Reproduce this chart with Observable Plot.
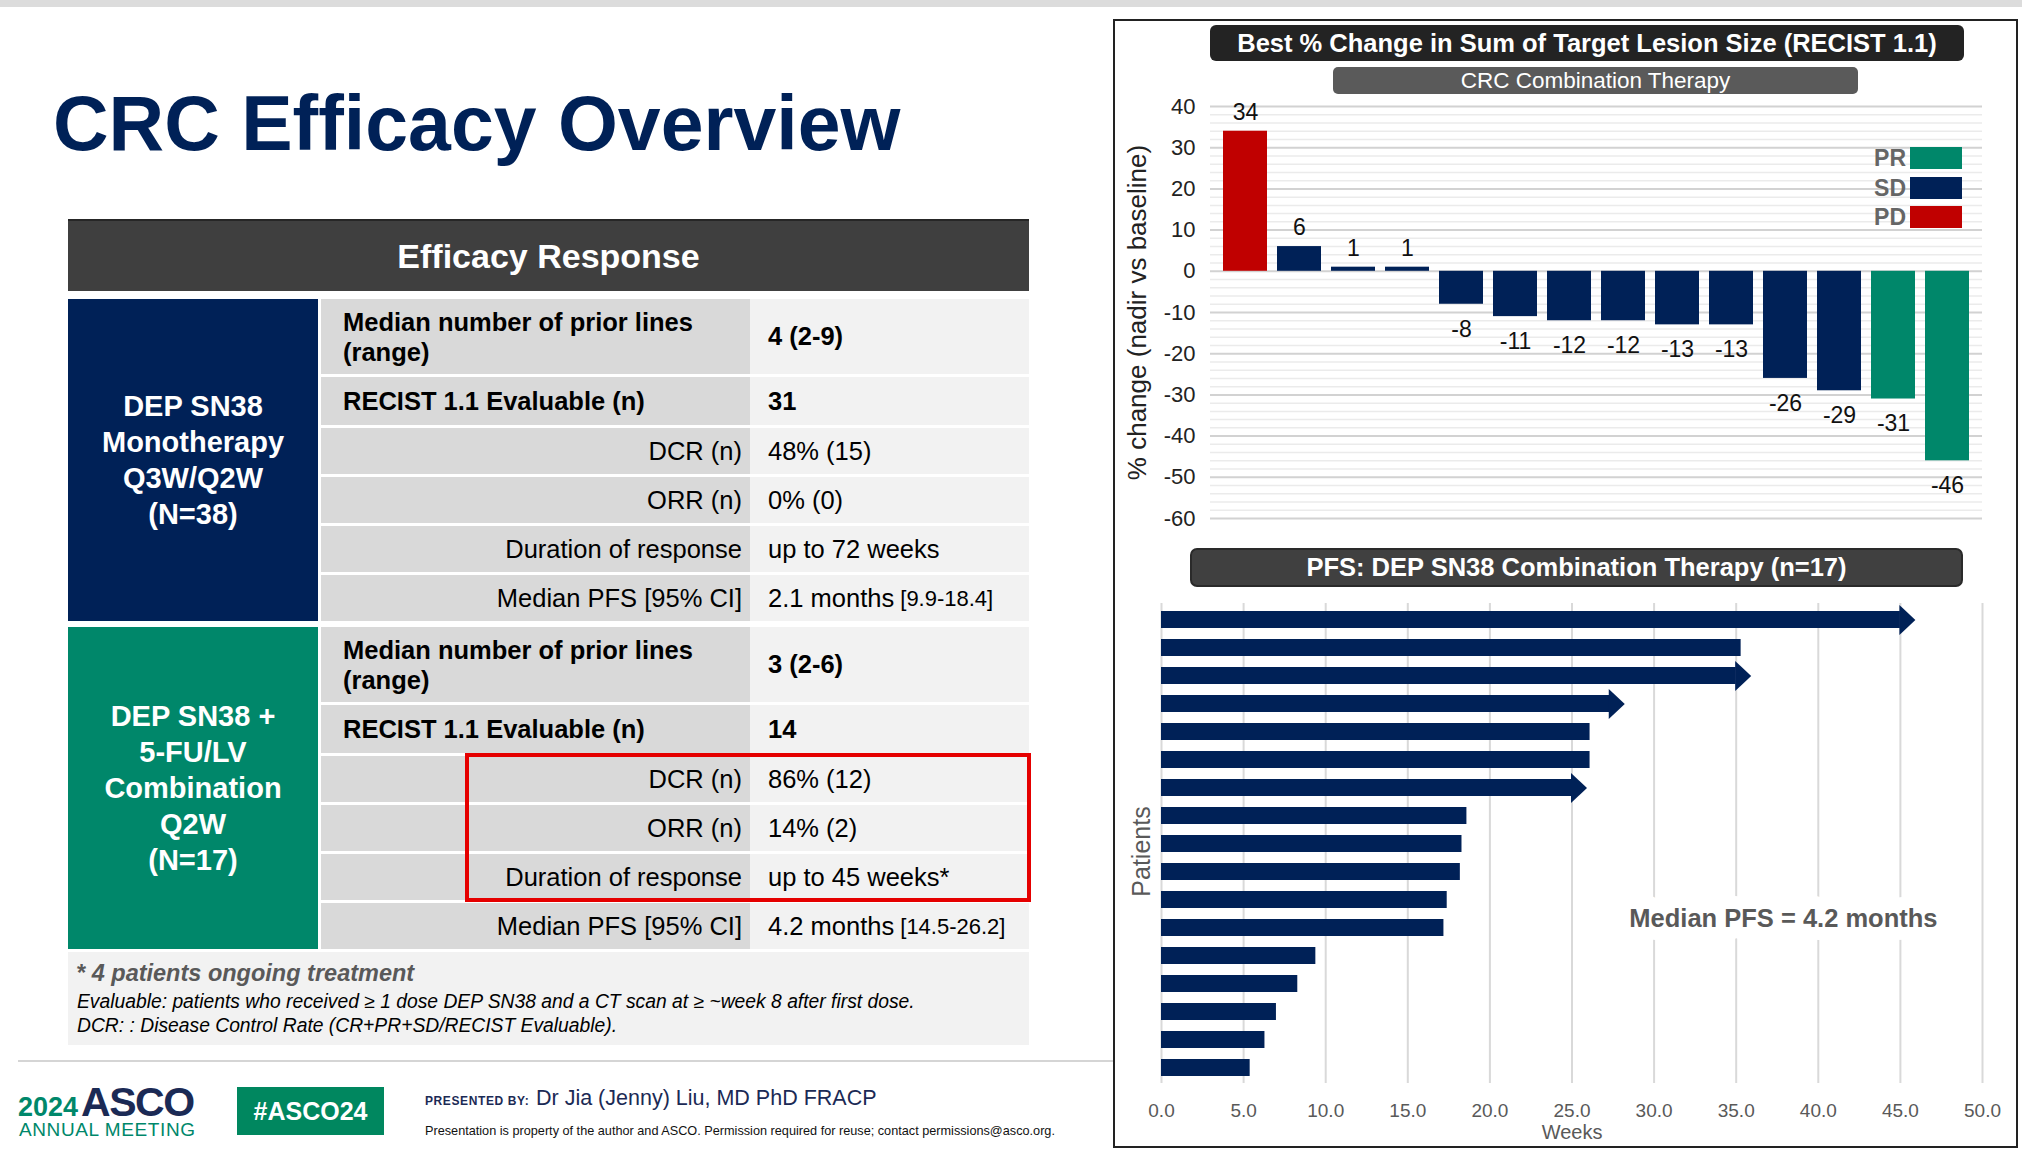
<!DOCTYPE html>
<html><head><meta charset="utf-8">
<script src="https://cdn.jsdelivr.net/npm/d3@7"></script>
<script src="https://cdn.jsdelivr.net/npm/@observablehq/plot@0.6"></script>
<style>
body{margin:0;background:#fff;}
#slide{position:relative;width:2022px;height:1162px;overflow:hidden;font-family:"Liberation Sans",Arial,Helvetica,sans-serif;background:#fff;}
.abs{position:absolute;box-sizing:border-box;white-space:nowrap;}
</style></head><body><div id="slide"></div>
<script>
// ---------- data ----------
const slideTitle = "CRC Efficacy Overview";
const tableHeader = "Efficacy Response";
const groupNames = [["DEP SN38", "Monotherapy", "Q3W/Q2W", "(N=38)"], ["DEP SN38 +", "5-FU/LV", "Combination", "Q2W", "(N=17)"]];
const rowLabels = [["Median number of prior lines", "(range)"], ["RECIST 1.1 Evaluable (n)"], ["DCR (n)"], ["ORR (n)"], ["Duration of response"], ["Median PFS [95% CI]"]];
const monoValues = ["4 (2-9)", "31", "48% (15)", "0% (0)", "up to 72 weeks", "2.1 months"];
const monoCI = ["", "", "", "", "", "[9.9-18.4]"];
const comboValues = ["3 (2-6)", "14", "86% (12)", "14% (2)", "up to 45 weeks*", "4.2 months"];
const comboCI = ["", "", "", "", "", "[14.5-26.2]"];
const footnotes = ["* 4 patients ongoing treatment", "Evaluable: patients who received \u2265 1 dose DEP SN38 and a CT scan at \u2265 ~week 8 after first dose.", "DCR: : Disease Control Rate (CR+PR+SD/RECIST Evaluable)."];

const wfTitle = "Best % Change in Sum of Target Lesion Size (RECIST 1.1)";
const wfSubtitle = "CRC Combination Therapy";
const wfValues = [34, 6, 1, 1, -8, -11, -12, -12, -13, -13, -26, -29, -31, -46];
const wfResponse = ["PD", "SD", "SD", "SD", "SD", "SD", "SD", "SD", "SD", "SD", "SD", "SD", "PR", "PR"];
const responseTypes = ["PR", "SD", "PD"];
const responseColors = ["#00876A", "#002157", "#C00000"];
const wfTicks = [40, 30, 20, 10, 0, -10, -20, -30, -40, -50, -60];
const wfYLabel = "% change (nadir vs baseline)";

const pfsTitle = "PFS: DEP SN38 Combination Therapy (n=17)";
const pfsWeeks = [45.0, 35.3, 35.0, 27.3, 26.1, 26.1, 25.0, 18.6, 18.3, 18.2, 17.4, 17.2, 9.4, 8.3, 7.0, 6.3, 5.4];
const pfsOngoing = [true, false, true, true, false, false, true, false, false, false, false, false, false, false, false, false, false];
const pfsTicks = [0, 5, 10, 15, 20, 25, 30, 35, 40, 45, 50];
const pfsXLabel = "Weeks";
const pfsYLabel = "Patients";
const pfsNote = "Median PFS = 4.2 months";

const footerPresenter = "Dr Jia (Jenny) Liu, MD PhD FRACP";
const footerNotice = "Presentation is property of the author and ASCO. Permission required for reuse; contact permissions@asco.org.";

// ---------- helpers ----------
const FONT = '"Liberation Sans",Arial,Helvetica,sans-serif';
const NAVY = "#002157", GREEN = "#00876A";
const slide = document.getElementById("slide");
function box(css, text, parent) {
  const d = document.createElement("div");
  d.className = "abs";
  Object.assign(d.style, css);
  if (text != null) d.textContent = text;
  (parent || slide).appendChild(d);
  return d;
}
function span(parent, text, css) {
  const s = document.createElement("span");
  s.textContent = text;
  Object.assign(s.style, css || {});
  parent.appendChild(s);
  return s;
}

// ---------- slide chrome ----------
box({left: "0px", top: "0px", width: "2022px", height: "7px", background: "#DCDCDC"});
box({left: "53px", top: "85px", fontSize: "77px", lineHeight: "77px", fontWeight: "bold", color: NAVY}, slideTitle);

// ---------- table ----------
box({left: "68px", top: "219px", width: "961px", height: "72px", background: "#3F3F3F", borderTop: "2px solid #262626",
  color: "#fff", fontWeight: "bold", fontSize: "34px", display: "flex", alignItems: "center", justifyContent: "center"}, tableHeader);

const rowHeights = [75, 48, 46, 46, 46, 46];
const gap = 3;
const sectionH = d3.sum(rowHeights) + gap * (rowHeights.length - 1);
function buildSection(top, names, color, values, cis) {
  const g = box({left: "68px", top: top + "px", width: "250px", height: sectionH + "px", background: color,
    display: "flex", flexDirection: "column", alignItems: "center", justifyContent: "center",
    color: "#fff", fontWeight: "bold", fontSize: "29px", textAlign: "center"});
  names.forEach(n => box({position: "static", height: "36px", lineHeight: "36px"}, n, g));
  let y = top;
  rowLabels.forEach((lab, i) => {
    const h = rowHeights[i];
    const bold = i < 2;
    const lc = box({left: "321px", top: y + "px", width: "429px", height: h + "px", background: "#D9D9D9",
      display: "flex", flexDirection: "column", justifyContent: "center",
      alignItems: bold ? "flex-start" : "flex-end", padding: bold ? "0 0 0 22px" : "0 8px 0 0",
      fontSize: "25.5px", fontWeight: bold ? "bold" : "normal", color: "#000"});
    lab.forEach(t => box({position: "static", height: "30px", lineHeight: "30px"}, t, lc));
    const vc = box({left: "750px", top: y + "px", width: "279px", height: h + "px", background: "#F2F2F2",
      display: "flex", alignItems: "center", padding: "0 0 0 18px",
      fontSize: "25.5px", fontWeight: bold ? "bold" : "normal", color: "#000"});
    span(vc, values[i]);
    if (cis[i]) span(vc, "\u00a0" + cis[i], {fontSize: "22px", position: "relative", top: "1px"});
    y += h + gap;
  });
}
buildSection(299, groupNames[0], NAVY, monoValues, monoCI);
buildSection(627, groupNames[1], GREEN, comboValues, comboCI);

// highlight box
box({left: "465px", top: "753px", width: "566px", height: "149px", border: "4px solid #E50000"});

// footnotes
box({left: "68px", top: "952px", width: "961px", height: "93px", background: "#F2F2F2"});
box({left: "76px", top: "960px", fontSize: "23.5px", lineHeight: "26px", fontWeight: "bold", fontStyle: "italic", color: "#595959"}, footnotes[0]);
box({left: "77px", top: "991px", fontSize: "19.3px", lineHeight: "22px", fontStyle: "italic", color: "#000"}, footnotes[1]);
box({left: "77px", top: "1015px", fontSize: "19.3px", lineHeight: "22px", fontStyle: "italic", color: "#000"}, footnotes[2]);

// ---------- footer ----------
box({left: "18px", top: "1060px", width: "1095px", height: "2px", background: "#D5D5D5"});
const logo = box({left: "18px", top: "1082px", lineHeight: "40px", color: NAVY});
span(logo, "2024", {fontSize: "27px", fontWeight: "bold", color: GREEN, marginRight: "3px"});
span(logo, "ASCO", {fontSize: "41px", fontWeight: "900", letterSpacing: "-1.5px", color: "#1B2A55"});
box({left: "19px", top: "1120px", fontSize: "19px", lineHeight: "20px", color: GREEN, letterSpacing: "0.6px"}, "ANNUAL MEETING");
box({left: "237px", top: "1087px", width: "147px", height: "48px", background: "#00875F", color: "#fff", fontWeight: "bold",
  fontSize: "25px", display: "flex", alignItems: "center", justifyContent: "center"}, "#ASCO24");
box({left: "425px", top: "1094px", fontSize: "12px", lineHeight: "14px", fontWeight: "bold", color: "#1B2A55", letterSpacing: "0.6px"}, "PRESENTED BY:");
box({left: "536px", top: "1085px", fontSize: "21.5px", lineHeight: "26px", color: "#1B2A55"}, footerPresenter);
box({left: "425px", top: "1124px", fontSize: "12.7px", lineHeight: "14px", color: "#111"}, footerNotice);

// ---------- chart box ----------
box({left: "1113px", top: "19px", width: "905px", height: "1129px", border: "2px solid #222"});
box({left: "1210px", top: "25px", width: "754px", height: "36px", background: "#232323", borderRadius: "6px",
  color: "#fff", fontWeight: "bold", fontSize: "25.5px", display: "flex", alignItems: "center", justifyContent: "center"}, wfTitle);
box({left: "1333px", top: "67px", width: "525px", height: "27px", background: "#5A5A5A", borderRadius: "5px",
  color: "#fff", fontSize: "22.5px", display: "flex", alignItems: "center", justifyContent: "center"}, wfSubtitle);
box({left: "1190px", top: "548px", width: "773px", height: "39px", background: "#404040", borderRadius: "7px", border: "2px solid #2a2a2a",
  color: "#fff", fontWeight: "bold", fontSize: "25.5px", display: "flex", alignItems: "center", justifyContent: "center"}, pfsTitle);

// ---------- waterfall ----------
const wfData = wfValues.map((v, i) => ({i, value: v, response: wfResponse[i]}));
const minorGrid = d3.range(-60, 41, 2).filter(v => v % 10 !== 0);
const wf = Plot.plot({
  width: 900, height: 440, marginTop: 16, marginBottom: 12, marginLeft: 97, marginRight: 31,
  style: {fontFamily: FONT, background: "transparent", overflow: "visible", color: "#222"},
  x: {domain: d3.range(wfValues.length), paddingInner: 0.19, paddingOuter: 0.18, axis: null},
  y: {domain: [-60, 40]},
  color: {domain: responseTypes, range: responseColors},
  marks: [
    Plot.ruleY(minorGrid, {stroke: "#EBEBEB", strokeWidth: 1.5}),
    Plot.ruleY(wfTicks, {stroke: "#D2D2D2", strokeWidth: 2}),
    Plot.barY(wfData, {x: "i", y: "value", fill: "response"}),
    Plot.text(wfData.filter(d => d.value >= 0), {x: "i", y: "value", text: d => String(d.value), dy: -19, fontSize: 23, fill: "#111"}),
    Plot.text(wfData.filter(d => d.value < 0), {x: "i", y: "value", text: d => String(d.value), dy: 25, fontSize: 23, fill: "#111"}),
    Plot.axisY({ticks: wfTicks, tickFormat: d => String(d), tickSize: 0, tickPadding: 15, fontSize: 22, label: null}),
    Plot.text([wfYLabel], {frameAnchor: "left", rotate: -90, dx: -73, textAnchor: "middle", lineAnchor: "middle", text: d => d, fontSize: 26, fill: "#222"})
  ]
});
const wfHolder = box({left: "1113px", top: "90px"});
wfHolder.appendChild(wf);

// legend (HTML overlay)
const legendTops = [147, 177, 206];
responseTypes.forEach((t, i) => {
  box({left: "1910px", top: legendTops[i] + "px", width: "52px", height: "22px", background: responseColors[i]});
  box({left: "1846px", top: (legendTops[i] - 2) + "px", width: "60px", textAlign: "right", fontSize: "23px", lineHeight: "26px", fontWeight: "bold", color: "#666"}, t);
});

// ---------- PFS swimmer ----------
const pfsData = pfsWeeks.map((w, i) => ({i, weeks: w, ongoing: pfsOngoing[i]}));
const arrowHead = {draw(ctx) { ctx.moveTo(-1, -15); ctx.lineTo(15, 0); ctx.lineTo(-1, 15); ctx.closePath(); }};
const pfs = Plot.plot({
  width: 900, height: 548, marginTop: 8, marginBottom: 60, marginLeft: 48, marginRight: 31,
  style: {fontFamily: FONT, background: "transparent", overflow: "visible", color: "#595959"},
  x: {domain: [0, 50]},
  y: {domain: d3.range(pfsWeeks.length), paddingInner: 0.4, paddingOuter: 0.2, axis: null},
  marks: [
    Plot.ruleX(pfsTicks, {stroke: "#D9D9D9", strokeWidth: 2}),
    Plot.barX(pfsData, {x1: 0, x2: "weeks", y: "i", fill: NAVY}),
    Plot.dot(pfsData.filter(d => d.ongoing), {x: "weeks", y: "i", symbol: arrowHead, fill: NAVY, stroke: "none", r: 5}),
    Plot.text([pfsNote], {frameAnchor: "right", dx: -45, dy: 75, textAnchor: "end", text: d => d, fontSize: 25.5, fontWeight: "bold",
      fill: "#595959", stroke: "white", strokeWidth: 26}),
    Plot.axisX({ticks: pfsTicks, tickFormat: d3.format(".1f"), tickSize: 0, tickPadding: 20, fontSize: 19, label: null}),
    Plot.text([pfsXLabel], {frameAnchor: "bottom", dy: 49, lineAnchor: "middle", text: d => d, fontSize: 20, fill: "#595959"}),
    Plot.text([pfsYLabel], {frameAnchor: "left", rotate: -90, dx: -20, dy: 8, textAnchor: "middle", lineAnchor: "middle", text: d => d, fontSize: 25, fill: "#595959"})
  ]
});
const pfsHolder = box({left: "1113px", top: "595px"});
pfsHolder.appendChild(pfs);
</script></body></html>
